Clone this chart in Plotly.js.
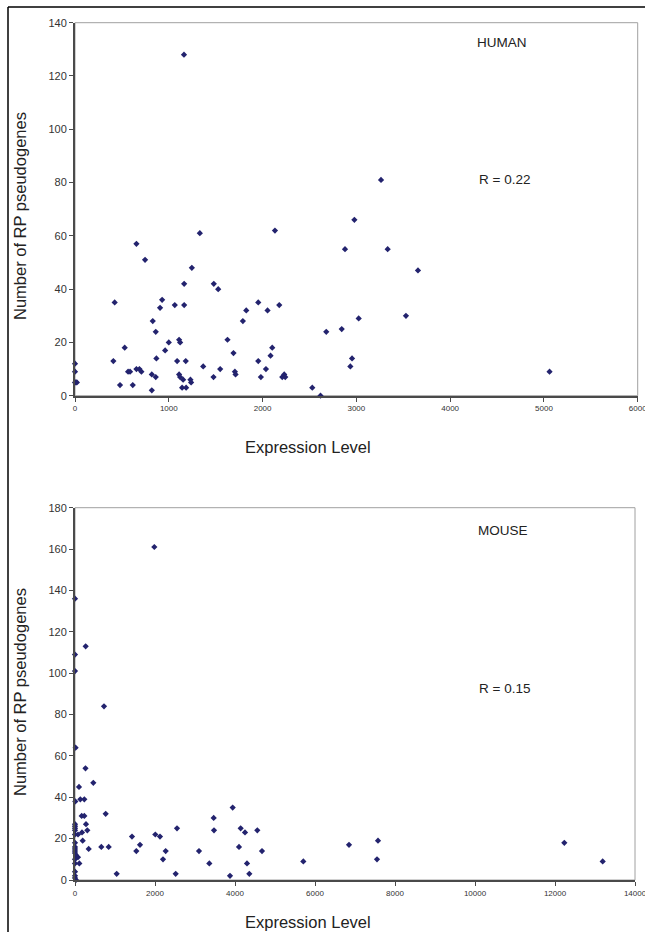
<!DOCTYPE html>
<html>
<head>
<meta charset="utf-8">
<script src="https://cdn.plot.ly/plotly-3.0.1.min.js"></script>
<style>html,body{margin:0;padding:0;background:#fff;}#chart{width:645px;height:932px;}</style>
</head>
<body>
<div id="chart"></div>
<script>
// HUMAN panel data
const humanExpr = [1162, 3263, 0, 0, 0, 10, 20, 409, 423, 480, 530, 566, 587, 616, 655, 655, 687, 708, 747, 819, 819, 829, 861, 861, 868, 907, 929, 961, 1000, 1064, 1089, 1110, 1110, 1121, 1121, 1142, 1153, 1164, 1164, 1181, 1185, 1231, 1238, 1246, 1331, 1367, 1477, 1480, 1527, 1548, 1626, 1690, 1705, 1712, 1790, 1826, 1954, 1954, 1982, 2036, 2053, 2085, 2103, 2132, 2178, 2210, 2231, 2242, 2530, 2618, 2679, 2844, 2879, 2936, 2954, 2979, 3025, 3334, 3529, 3657, 5060];
const humanRP   = [128, 81, 12, 9, 5, 5, 5, 13, 35, 4, 18, 9, 9, 4, 57, 10, 10, 9, 51, 8, 2, 28, 24, 7, 14, 33, 36, 17, 20, 34, 13, 21, 8, 20, 7, 3, 6, 42, 34, 13, 3, 6, 5, 48, 61, 11, 7, 42, 40, 10, 21, 16, 9, 8, 28, 32, 35, 13, 7, 10, 32, 15, 18, 62, 34, 7, 8, 7, 3, 0, 24, 25, 55, 11, 14, 66, 29, 55, 30, 47, 9];

// MOUSE panel data
const mouseExpr = [1983, 0, 0, 0, 267, 725, 15, 8, 100, 133, 233, 262, 458, 167, 233, 767, 0, 0, 0, 0, 275, 308, 175, 75, 0, 192, 0, 0, 0, 0, 0, 342, 658, 842, 25, 75, 0, 108, 0, 0, 0, 0, 25, 1042, 1425, 1533, 1625, 2008, 2125, 2200, 2267, 2517, 2550, 3100, 3358, 3467, 3475, 3875, 3942, 4100, 4142, 4250, 4300, 4358, 4558, 4675, 5708, 6850, 7550, 7575, 12233, 13192];
const mouseRP   = [161, 136, 109, 101, 113, 84, 64, 38, 45, 39, 39, 54, 47, 31, 31, 32, 27, 26, 25, 24, 27, 24, 23, 22, 22, 19, 18, 16, 15, 14, 13, 15, 16, 16, 12, 11, 10, 8, 8, 4, 2, 1, 0, 3, 21, 14, 17, 22, 21, 10, 14, 3, 25, 14, 8, 30, 24, 2, 35, 16, 25, 23, 8, 3, 24, 14, 9, 17, 10, 19, 18, 9];

const panelLabels = ["HUMAN", "MOUSE"];
const rLabels = ["R = 0.22", "R = 0.15"];
const xTitle = "Expression Level";
const yTitle = "Number of RP pseudogenes";

const W = 645, H = 932;
const px = v => v / W;
const py = v => 1 - v / H;

const markerStyle = {symbol: "diamond", size: 4.8, color: "#23236e", line: {width: 0}};
const FONT = "Liberation Sans, Arial, sans-serif";

const traces = [
  {x: humanExpr, y: humanRP, type: "scatter", mode: "markers", marker: markerStyle, xaxis: "x", yaxis: "y", hoverinfo: "x+y", cliponaxis: false},
  {x: mouseExpr, y: mouseRP, type: "scatter", mode: "markers", marker: markerStyle, xaxis: "x2", yaxis: "y2", hoverinfo: "x+y", cliponaxis: false}
];

function xAx(domain, range, dtick, anchor) {
  return {domain: domain, range: range, dtick: dtick, tick0: 0, anchor: anchor,
    showgrid: false, zeroline: false, showline: true, linecolor: "#4a4a4a", linewidth: 2,
    ticks: "outside", ticklen: 4, tickwidth: 1, tickcolor: "#4a4a4a", ticklabeloverflow: "allow",
    tickfont: {family: FONT, size: 8, color: "#333"}, tickformat: "d", fixedrange: true};
}
function yAx(domain, range, dtick, anchor) {
  return {domain: domain, range: range, dtick: dtick, tick0: 0, anchor: anchor,
    showgrid: false, zeroline: false, showline: true, linecolor: "#4a4a4a", linewidth: 2,
    ticks: "outside", ticklen: 4, tickwidth: 1, tickcolor: "#4a4a4a", ticklabeloverflow: "allow",
    tickfont: {family: FONT, size: 11, color: "#333"}, tickformat: "d", fixedrange: true};
}

const layout = {
  width: W, height: H,
  margin: {l: 0, r: 0, t: 0, b: 0},
  paper_bgcolor: "#fff", plot_bgcolor: "#fff",
  showlegend: false,
  separators: ".",
  xaxis:  xAx([px(75), px(637.7)], [0, 6000], 1000, "y"),
  yaxis:  yAx([py(395.7), py(22.7)], [0, 140], 20, "x"),
  xaxis2: xAx([px(75), px(635)], [0, 14000], 2000, "y2"),
  yaxis2: yAx([py(880), py(507.7)], [0, 180], 20, "x2"),
  shapes: [
    {type: "rect", xref: "x domain", yref: "y domain", x0: 0, x1: 1, y0: 0, y1: 1, line: {color: "#a0a0a0", width: 1}, layer: "below"},
    {type: "rect", xref: "x2 domain", yref: "y2 domain", x0: 0, x1: 1, y0: 0, y1: 1, line: {color: "#a0a0a0", width: 1}, layer: "below"},
    {type: "line", xref: "paper", yref: "paper", x0: px(8), x1: 1.01, y0: py(7), y1: py(7), line: {color: "#000", width: 1.5}},
    {type: "line", xref: "paper", yref: "paper", x0: px(8), x1: px(8), y0: py(7), y1: -0.01, line: {color: "#000", width: 1.5}}
  ],
  annotations: [
    {text: panelLabels[0], xref: "paper", yref: "paper", x: px(502), y: py(42), showarrow: false, xanchor: "center", yanchor: "middle", font: {family: FONT, size: 13.5, color: "#222"}},
    {text: rLabels[0], xref: "paper", yref: "paper", x: px(504), y: py(179), showarrow: false, xanchor: "center", yanchor: "middle", font: {family: FONT, size: 13.5, color: "#222"}},
    {text: panelLabels[1], xref: "paper", yref: "paper", x: px(502.5), y: py(530), showarrow: false, xanchor: "center", yanchor: "middle", font: {family: FONT, size: 13.5, color: "#222"}},
    {text: rLabels[1], xref: "paper", yref: "paper", x: px(504), y: py(688), showarrow: false, xanchor: "center", yanchor: "middle", font: {family: FONT, size: 13.5, color: "#222"}},
    {text: xTitle, xref: "paper", yref: "paper", x: px(308), y: py(447), showarrow: false, xanchor: "center", yanchor: "middle", font: {family: FONT, size: 16.5, color: "#222"}},
    {text: xTitle, xref: "paper", yref: "paper", x: px(308), y: py(921.5), showarrow: false, xanchor: "center", yanchor: "middle", font: {family: FONT, size: 16.5, color: "#222"}},
    {text: yTitle, xref: "paper", yref: "paper", x: px(20), y: py(216), showarrow: false, textangle: -90, xanchor: "center", yanchor: "middle", font: {family: FONT, size: 16.5, color: "#222"}},
    {text: yTitle, xref: "paper", yref: "paper", x: px(20), y: py(692), showarrow: false, textangle: -90, xanchor: "center", yanchor: "middle", font: {family: FONT, size: 16.5, color: "#222"}}
  ]
};

Plotly.newPlot("chart", traces, layout, {staticPlot: true, displayModeBar: false});
</script>
</body>
</html>
